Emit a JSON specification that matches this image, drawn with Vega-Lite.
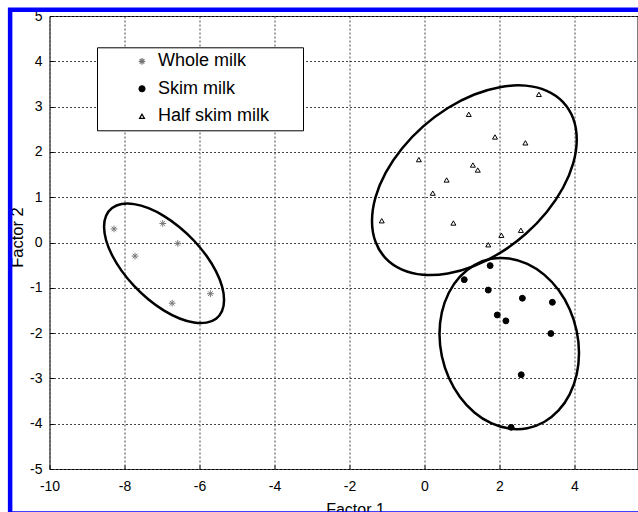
{
  "$schema": "https://vega.github.io/schema/vega-lite/v6.json",
  "width": 588,
  "height": 453,
  "autosize": "none",
  "padding": {"left": 49.5, "top": 16, "right": 0.5, "bottom": 43},
  "background": "white",
  "config": {
    "view": {"stroke": "black", "strokeWidth": 1},
    "font": "Liberation Sans"
  },
  "datasets": {
    "frame": [{"x1": -11.05, "x2": 8, "y1": 5.137, "y2": -5.98}],
    "ell": [
      {"e": "whole", "i": 0, "x": -5.345, "y": -1.268},
      {"e": "whole", "i": 1, "x": -5.399, "y": -0.970},
      {"e": "whole", "i": 2, "x": -5.559, "y": -0.638},
      {"e": "whole", "i": 3, "x": -5.814, "y": -0.294},
      {"e": "whole", "i": 4, "x": -6.145, "y": 0.039},
      {"e": "whole", "i": 5, "x": -6.531, "y": 0.338},
      {"e": "whole", "i": 6, "x": -6.945, "y": 0.583},
      {"e": "whole", "i": 7, "x": -7.359, "y": 0.757},
      {"e": "whole", "i": 8, "x": -7.745, "y": 0.847},
      {"e": "whole", "i": 9, "x": -8.076, "y": 0.849},
      {"e": "whole", "i": 10, "x": -8.331, "y": 0.761},
      {"e": "whole", "i": 11, "x": -8.491, "y": 0.591},
      {"e": "whole", "i": 12, "x": -8.545, "y": 0.348},
      {"e": "whole", "i": 13, "x": -8.491, "y": 0.050},
      {"e": "whole", "i": 14, "x": -8.331, "y": -0.282},
      {"e": "whole", "i": 15, "x": -8.076, "y": -0.626},
      {"e": "whole", "i": 16, "x": -7.745, "y": -0.959},
      {"e": "whole", "i": 17, "x": -7.359, "y": -1.258},
      {"e": "whole", "i": 18, "x": -6.945, "y": -1.503},
      {"e": "whole", "i": 19, "x": -6.531, "y": -1.677},
      {"e": "whole", "i": 20, "x": -6.145, "y": -1.767},
      {"e": "whole", "i": 21, "x": -5.814, "y": -1.769},
      {"e": "whole", "i": 22, "x": -5.559, "y": -1.681},
      {"e": "whole", "i": 23, "x": -5.399, "y": -1.511},
      {"e": "half", "i": 0, "x": 4.06, "y": 2.275},
      {"e": "half", "i": 1, "x": 3.967, "y": 2.734},
      {"e": "half", "i": 2, "x": 3.694, "y": 3.100},
      {"e": "half", "i": 3, "x": 3.260, "y": 3.348},
      {"e": "half", "i": 4, "x": 2.695, "y": 3.463},
      {"e": "half", "i": 5, "x": 2.037, "y": 3.435},
      {"e": "half", "i": 6, "x": 1.33, "y": 3.267},
      {"e": "half", "i": 7, "x": 0.623, "y": 2.969},
      {"e": "half", "i": 8, "x": -0.035, "y": 2.563},
      {"e": "half", "i": 9, "x": -0.600, "y": 2.076},
      {"e": "half", "i": 10, "x": -1.034, "y": 1.542},
      {"e": "half", "i": 11, "x": -1.307, "y": 0.996},
      {"e": "half", "i": 12, "x": -1.40, "y": 0.475},
      {"e": "half", "i": 13, "x": -1.307, "y": 0.016},
      {"e": "half", "i": 14, "x": -1.034, "y": -0.350},
      {"e": "half", "i": 15, "x": -0.600, "y": -0.598},
      {"e": "half", "i": 16, "x": -0.035, "y": -0.713},
      {"e": "half", "i": 17, "x": 0.623, "y": -0.685},
      {"e": "half", "i": 18, "x": 1.33, "y": -0.517},
      {"e": "half", "i": 19, "x": 2.037, "y": -0.219},
      {"e": "half", "i": 20, "x": 2.695, "y": 0.187},
      {"e": "half", "i": 21, "x": 3.260, "y": 0.674},
      {"e": "half", "i": 22, "x": 3.694, "y": 1.208},
      {"e": "half", "i": 23, "x": 3.967, "y": 1.754},
      {"e": "skim", "i": 0, "x": 4.12, "y": -2.441},
      {"e": "skim", "i": 1, "x": 4.057, "y": -1.948},
      {"e": "skim", "i": 2, "x": 3.871, "y": -1.474},
      {"e": "skim", "i": 3, "x": 3.575, "y": -1.051},
      {"e": "skim", "i": 4, "x": 3.19, "y": -0.709},
      {"e": "skim", "i": 5, "x": 2.742, "y": -0.471},
      {"e": "skim", "i": 6, "x": 2.26, "y": -0.352},
      {"e": "skim", "i": 7, "x": 1.778, "y": -0.361},
      {"e": "skim", "i": 8, "x": 1.33, "y": -0.498},
      {"e": "skim", "i": 9, "x": 0.945, "y": -0.753},
      {"e": "skim", "i": 10, "x": 0.649, "y": -1.108},
      {"e": "skim", "i": 11, "x": 0.463, "y": -1.540},
      {"e": "skim", "i": 12, "x": 0.40, "y": -2.019},
      {"e": "skim", "i": 13, "x": 0.463, "y": -2.512},
      {"e": "skim", "i": 14, "x": 0.649, "y": -2.986},
      {"e": "skim", "i": 15, "x": 0.945, "y": -3.409},
      {"e": "skim", "i": 16, "x": 1.33, "y": -3.751},
      {"e": "skim", "i": 17, "x": 1.778, "y": -3.989},
      {"e": "skim", "i": 18, "x": 2.26, "y": -4.108},
      {"e": "skim", "i": 19, "x": 2.742, "y": -4.099},
      {"e": "skim", "i": 20, "x": 3.19, "y": -3.962},
      {"e": "skim", "i": 21, "x": 3.575, "y": -3.707},
      {"e": "skim", "i": 22, "x": 3.871, "y": -3.352},
      {"e": "skim", "i": 23, "x": 4.057, "y": -2.920}
    ],
    "pts": [
      {"milk": "Whole milk", "x": -8.28, "y": 0.30},
      {"milk": "Whole milk", "x": -6.98, "y": 0.42},
      {"milk": "Whole milk", "x": -6.58, "y": -0.02},
      {"milk": "Whole milk", "x": -7.72, "y": -0.30},
      {"milk": "Whole milk", "x": -5.71, "y": -1.13},
      {"milk": "Whole milk", "x": -6.73, "y": -1.34},
      {"milk": "Skim milk", "x": 1.75, "y": -0.51},
      {"milk": "Skim milk", "x": 1.06, "y": -0.82},
      {"milk": "Skim milk", "x": 1.70, "y": -1.05},
      {"milk": "Skim milk", "x": 2.61, "y": -1.23},
      {"milk": "Skim milk", "x": 3.41, "y": -1.32},
      {"milk": "Skim milk", "x": 1.94, "y": -1.60},
      {"milk": "Skim milk", "x": 2.17, "y": -1.73},
      {"milk": "Skim milk", "x": 3.37, "y": -2.01},
      {"milk": "Skim milk", "x": 2.58, "y": -2.92},
      {"milk": "Skim milk", "x": 2.31, "y": -4.08},
      {"milk": "Half skim milk", "x": 3.05, "y": 3.27},
      {"milk": "Half skim milk", "x": 1.18, "y": 2.83},
      {"milk": "Half skim milk", "x": 1.88, "y": 2.33},
      {"milk": "Half skim milk", "x": 2.69, "y": 2.20},
      {"milk": "Half skim milk", "x": -0.15, "y": 1.83},
      {"milk": "Half skim milk", "x": 1.29, "y": 1.71},
      {"milk": "Half skim milk", "x": 1.42, "y": 1.60},
      {"milk": "Half skim milk", "x": 0.59, "y": 1.38},
      {"milk": "Half skim milk", "x": 0.22, "y": 1.09},
      {"milk": "Half skim milk", "x": -1.14, "y": 0.48},
      {"milk": "Half skim milk", "x": 0.77, "y": 0.43},
      {"milk": "Half skim milk", "x": 2.57, "y": 0.27},
      {"milk": "Half skim milk", "x": 2.05, "y": 0.16},
      {"milk": "Half skim milk", "x": 1.70, "y": -0.05}
    ]
  },
  "layer": [
    {
      "data": {"name": "frame"},
      "mark": {"type": "rect", "fill": null, "fillOpacity": 0, "stroke": "#0000ff", "strokeWidth": 4.5, "clip": false},
      "encoding": {
        "x": {"field": "x1", "type": "quantitative",
              "scale": {"domain": [-10, 5.68], "nice": false, "zero": false}},
        "x2": {"field": "x2"},
        "y": {"field": "y1", "type": "quantitative",
              "scale": {"domain": [-5, 5], "nice": false, "zero": false}},
        "y2": {"field": "y2"}
      }
    },
    {
      "data": {"name": "ell"},
      "mark": {"type": "line", "interpolate": "cardinal-closed", "stroke": "black", "strokeWidth": 2.5},
      "encoding": {
        "x": {"field": "x", "type": "quantitative",
              "scale": {"domain": [-10, 5.68], "nice": false, "zero": false},
              "axis": {"orient": "bottom", "values": [-10,-9,-8,-7,-6,-5,-4,-3,-2,-1,0,1,2,3,4,5],
                       "labelExpr": "datum.value % 2 === 0 ? replace(datum.label, '\u2212', '-') : ''",
                       "labelFlush": false, "labelOverlap": false,
                       "grid": true, "gridColor": "#444", "gridDash": [2, 2], "gridWidth": 1,
                       "gridOpacity": {"condition": {"test": "datum.value % 2 !== 0", "value": 0}, "value": 1},
                       "domain": false, "tickSize": -4, "tickColor": "black",
                       "labelFontSize": 14, "labelColor": "black", "labelPadding": 14,
                       "title": "Factor 1", "titleFontSize": 16, "titleFontWeight": "normal", "titleColor": "black",
                       "titleX": 305.5, "titleY": 45, "titleBaseline": "alphabetic", "titleAlign": "center"}},
        "y": {"field": "y", "type": "quantitative",
              "scale": {"domain": [-5, 5], "nice": false, "zero": false},
              "axis": {"orient": "left", "values": [-5,-4.5,-4,-3.5,-3,-2.5,-2,-1.5,-1,-0.5,0,0.5,1,1.5,2,2.5,3,3.5,4,4.5,5],
                       "labelExpr": "datum.value % 1 === 0 ? replace(datum.label, '\u2212', '-') : ''",
                       "labelFlush": false, "labelOverlap": false,
                       "grid": true, "gridColor": "#444", "gridDash": [2, 2], "gridWidth": 1,
                       "gridOpacity": {"condition": {"test": "datum.value % 1 !== 0", "value": 0}, "value": 1},
                       "domain": false, "tickSize": -4, "tickColor": "black",
                       "labelFontSize": 14, "labelColor": "black", "labelPadding": 11.5,
                       "title": "Factor 2", "titleFontSize": 16.5, "titleFontWeight": "normal", "titleColor": "black",
                       "titleAngle": 270, "titleX": -27.5, "titleY": 221, "titleBaseline": "alphabetic", "titleAlign": "center"}},
        "detail": {"field": "e", "type": "nominal"},
        "order": {"field": "i", "type": "quantitative"}
      }
    },
    {
      "data": {"name": "pts"},
      "mark": {"type": "point", "opacity": 1, "strokeWidth": 1},
      "encoding": {
        "x": {"field": "x", "type": "quantitative", "scale": {"domain": [-10, 5.68], "nice": false, "zero": false}},
        "y": {"field": "y", "type": "quantitative", "scale": {"domain": [-5, 5], "nice": false, "zero": false}},
        "shape": {"field": "milk", "type": "nominal",
                  "scale": {"domain": ["Whole milk", "Skim milk", "Half skim milk"],
                            "range": ["M-1,0L1,0M0,-1L0,1M-0.7,-0.7L0.7,0.7M-0.7,0.7L0.7,-0.7", "circle", "triangle-up"]},
                  "legend": {"title": " ", "titleOrient": "right", "titlePadding": 29, "titleFontSize": 4,
                             "orient": "none", "legendX": 47.5, "legendY": 31.3,
                             "strokeColor": "black", "fillColor": "white", "padding": 5,
                             "labelFontSize": 18, "labelColor": "black", "labelFont": "Liberation Sans",
                             "rowPadding": 9.5, "labelOffset": 7, "symbolOffset": 31,
                             "symbolStrokeWidth": 1.2,
                             "encode": {
                               "legend": {"strokeWidth": {"value": 1.5}},
                               "symbols": {
                                 "stroke": {"value": "black"},
                                 "strokeWidth": {"value": 1.2},
                                 "size": {"condition": [
                                            {"test": "datum.value === 'Skim milk'", "value": 49},
                                            {"test": "datum.value === 'Whole milk'", "value": 137}
                                          ],
                                          "value": 196}
                               }
                             }}},
        "stroke": {"field": "milk", "type": "nominal",
                   "scale": {"domain": ["Whole milk", "Skim milk", "Half skim milk"], "range": ["#777777", "black", "black"]},
                   "legend": {"title": " ", "titleOrient": "right", "titlePadding": 29, "titleFontSize": 4,
                             "orient": "none", "legendX": 47.5, "legendY": 31.3,
                             "strokeColor": "black", "fillColor": "white", "padding": 5,
                             "labelFontSize": 18, "labelColor": "black", "labelFont": "Liberation Sans",
                             "rowPadding": 9.5, "labelOffset": 7, "symbolOffset": 31,
                             "symbolStrokeWidth": 1.2,
                             "encode": {
                               "legend": {"strokeWidth": {"value": 1.5}},
                               "symbols": {
                                 "stroke": {"value": "black"},
                                 "strokeWidth": {"value": 1.2},
                                 "size": {"condition": [
                                            {"test": "datum.value === 'Skim milk'", "value": 49},
                                            {"test": "datum.value === 'Whole milk'", "value": 137}
                                          ],
                                          "value": 196}
                               }
                             }}},
        "fill": {"field": "milk", "type": "nominal",
                 "scale": {"domain": ["Whole milk", "Skim milk", "Half skim milk"], "range": ["transparent", "black", "white"]},
                 "legend": {"title": " ", "titleOrient": "right", "titlePadding": 29, "titleFontSize": 4,
                             "orient": "none", "legendX": 47.5, "legendY": 31.3,
                             "strokeColor": "black", "fillColor": "white", "padding": 5,
                             "labelFontSize": 18, "labelColor": "black", "labelFont": "Liberation Sans",
                             "rowPadding": 9.5, "labelOffset": 7, "symbolOffset": 31,
                             "symbolStrokeWidth": 1.2,
                             "encode": {
                               "legend": {"strokeWidth": {"value": 1.5}},
                               "symbols": {
                                 "stroke": {"value": "black"},
                                 "strokeWidth": {"value": 1.2},
                                 "size": {"condition": [
                                            {"test": "datum.value === 'Skim milk'", "value": 49},
                                            {"test": "datum.value === 'Whole milk'", "value": 137}
                                          ],
                                          "value": 196}
                               }
                             }}},
        "size": {"field": "milk", "type": "nominal",
                 "scale": {"domain": ["Whole milk", "Skim milk", "Half skim milk"], "range": [45, 25, 53]},
                 "legend": {"title": " ", "titleOrient": "right", "titlePadding": 29, "titleFontSize": 4,
                             "orient": "none", "legendX": 47.5, "legendY": 31.3,
                             "strokeColor": "black", "fillColor": "white", "padding": 5,
                             "labelFontSize": 18, "labelColor": "black", "labelFont": "Liberation Sans",
                             "rowPadding": 9.5, "labelOffset": 7, "symbolOffset": 31,
                             "symbolStrokeWidth": 1.2,
                             "encode": {
                               "legend": {"strokeWidth": {"value": 1.5}},
                               "symbols": {
                                 "stroke": {"value": "black"},
                                 "strokeWidth": {"value": 1.2},
                                 "size": {"condition": [
                                            {"test": "datum.value === 'Skim milk'", "value": 49},
                                            {"test": "datum.value === 'Whole milk'", "value": 137}
                                          ],
                                          "value": 196}
                               }
                             }}}
      }
    }
  ]
}
